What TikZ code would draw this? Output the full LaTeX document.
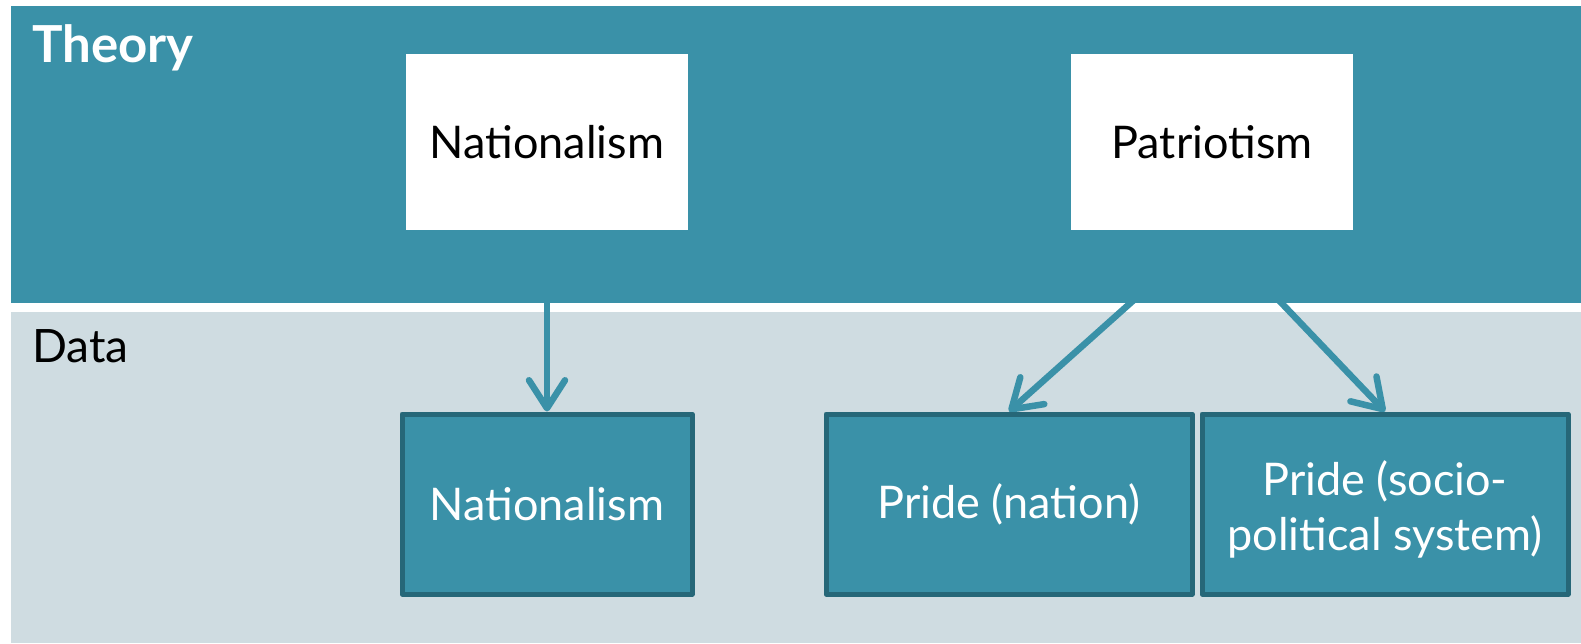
\documentclass[tikz,border=0pt]{standalone}
\usepackage{fontspec}
\setmainfont{Lato}
\usetikzlibrary{arrows.meta}
\definecolor{bandteal}{HTML}{3A91A8}
\definecolor{bandlight}{HTML}{CFDCE1}
\definecolor{boxedge}{HTML}{266778}
\pgfdeclarelayer{backdrop}
\pgfdeclarelayer{links}
\pgfdeclarelayer{band}
\pgfsetlayers{backdrop,links,band,main}
\tikzset{
  conceptbox/.style={fill=white, draw=none, minimum width=282pt, minimum height=176pt,
    inner sep=0pt, font=\fontsize{45}{50}\selectfont, text=black},
  databox/.style={fill=bandteal, draw=boxedge, line width=5pt, line join=round,
    minimum width=#1, minimum height=180pt, inner sep=0pt,
    font=\fontsize{45}{55}\selectfont, text=white, align=center},
  link/.style={draw=bandteal, line width=6.5pt,
    -{Straight Barb[length=28pt, width=36pt, round]}},
  bandlabel/.style={anchor=base west, inner sep=0pt, font=\fontsize{46}{55}\selectfont}
}
\begin{document}
\begin{tikzpicture}[x=1pt, y=-1pt]
  \useasboundingbox (0,0) rectangle (1581,643);
  % theory layer
  \node[conceptbox] (natT) at (547,142) {Nationalism};
  \node[conceptbox] (patT) at (1212,142) {Patriotism};
  % data layer
  \node[databox=290pt] (natD) at (547,504) {Nationalism};
  \node[databox=366pt] (prideN) at (1009,504) {Pride (nation)};
  \node[databox=366pt] (prideS) at (1385,504) {};
  \node[font=\fontsize{45}{55}\selectfont, text=white, align=center, inner sep=0pt]
    (prideStext) at (1385,509) {Pride (socio-\\political system)};
  % band backgrounds
  \begin{pgfonlayer}{backdrop}
    \fill[white] (0,0) rectangle (1581,643);
    \fill[bandlight] (11,312) rectangle (1581,643);
  \end{pgfonlayer}
  \begin{pgfonlayer}{band}
    \fill[bandteal] (11,6) rectangle (1581,303);
  \end{pgfonlayer}
  \node[bandlabel, text=white, font=\fontsize{51}{55}\selectfont\bfseries] (theory) at (32,62) {Theory};
  \node[bandlabel, text=black] (data) at (32,362) {Data};
  % connectors, partly hidden by the theory band
  \begin{pgfonlayer}{links}
    \draw[link] (natT.south) -- (natD.north);
    \draw[link] (patT.south) -- (prideN.north);
    \draw[link] (patT.south) -- (prideS.north);
  \end{pgfonlayer}
\end{tikzpicture}
\end{document}
